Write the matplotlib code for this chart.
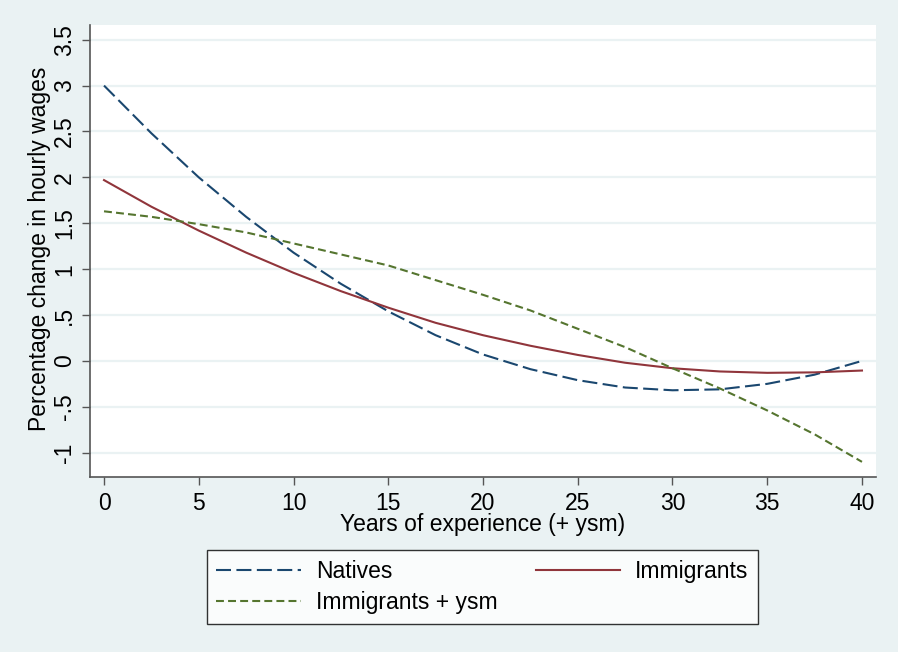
import numpy as np
import matplotlib
matplotlib.use("Agg")
import matplotlib.pyplot as plt
from matplotlib.ticker import FixedLocator, FixedFormatter

plt.rcParams['font.family'] = ['Liberation Sans', 'DejaVu Sans']

# --- data ---
years = [0, 2.5, 5, 7.5, 10, 12.5, 15, 17.5, 20, 22.5, 25, 27.5, 30, 32.5, 35, 37.5, 40]
natives = [3.00, 2.48, 2.00, 1.57, 1.18, 0.84, 0.54, 0.28, 0.07, -0.09, -0.21, -0.29,
           -0.32, -0.31, -0.25, -0.15, 0.00]
immigrants = [1.97, 1.68, 1.42, 1.18, 0.96, 0.76, 0.58, 0.415, 0.28, 0.165, 0.065, -0.02,
              -0.08, -0.115, -0.13, -0.125, -0.105]
immigrants_ysm = [1.63, 1.57, 1.49, 1.40, 1.28, 1.16, 1.04, 0.88, 0.72, 0.55, 0.35, 0.15,
                  -0.08, -0.30, -0.54, -0.80, -1.10]

xticks = [0, 5, 10, 15, 20, 25, 30, 35, 40]
yticks = [-1, -0.5, 0, 0.5, 1, 1.5, 2, 2.5, 3, 3.5]
ytick_labels = ["-1", "-.5", "0", ".5", "1", "1.5", "2", "2.5", "3", "3.5"]

# Stata s2color-ish colours
BG = "#EAF2F3"
NAVY = "#1a476f"
MAROON = "#90353b"
GREEN = "#55752f"
FS = 16.5

W, H = 898, 652
fig = plt.figure(figsize=(W / 100, H / 100), dpi=100)
fig.patch.set_facecolor(BG)

# plot region in pixels: left 90, right 876, top 25, bottom 477
ax = fig.add_axes([90 / W, 1 - 477 / H, (876 - 90) / W, (477 - 25) / H])
ax.set_facecolor("white")

l1, = ax.plot(years, natives, color=NAVY, lw=1.5, dashes=(7.2, 2.6), label="Natives")
l2, = ax.plot(years, immigrants, color=MAROON, lw=1.5, label="Immigrants")
l3, = ax.plot(years, immigrants_ysm, color=GREEN, lw=1.5, dashes=(3.8, 2.0),
              label="Immigrants + ysm")

ax.set_xlim(-0.74, 40.74)
ax.set_ylim(-1.265, 3.66)

ax.xaxis.set_major_locator(FixedLocator(xticks))
ax.yaxis.set_major_locator(FixedLocator(yticks))
ax.yaxis.set_major_formatter(FixedFormatter(ytick_labels))

ax.grid(axis="y", color=BG, lw=1.6)
ax.set_axisbelow(True)

for s in ["top", "right"]:
    ax.spines[s].set_visible(False)
for s in ["left", "bottom"]:
    ax.spines[s].set_color("#555555")
    ax.spines[s].set_linewidth(1.2)

ax.tick_params(axis="both", colors="#555555", labelcolor="black", labelsize=FS,
               length=6, width=1.0, direction="out")
ax.tick_params(axis="x", pad=5)
ax.tick_params(axis="y", pad=4)
for lab in ax.get_yticklabels():
    lab.set_rotation(90)
    lab.set_va("center")

fig.text(40 / W, 1 - 249 / H, "Percentage change in hourly wages", rotation=90,
         ha="center", va="center", fontsize=FS)
fig.text(483 / W, 1 - 525 / H, "Years of experience (+ ysm)",
         ha="center", va="center", fontsize=FS)

leg = fig.legend([l1, l3, l2], ["Natives", "Immigrants + ysm", "Immigrants"],
                 ncol=2, loc="center", bbox_to_anchor=(482.5 / W, 1 - 587 / H),
                 fontsize=FS, frameon=True, fancybox=False, edgecolor="black",
                 handlelength=3.7, handletextpad=0.65, columnspacing=1.65,
                 labelspacing=0.35, borderpad=0.42, borderaxespad=0)
leg.get_frame().set_linewidth(1.0)
leg.get_frame().set_facecolor("white")

fig.savefig("out.png", dpi=100, facecolor=fig.get_facecolor())
